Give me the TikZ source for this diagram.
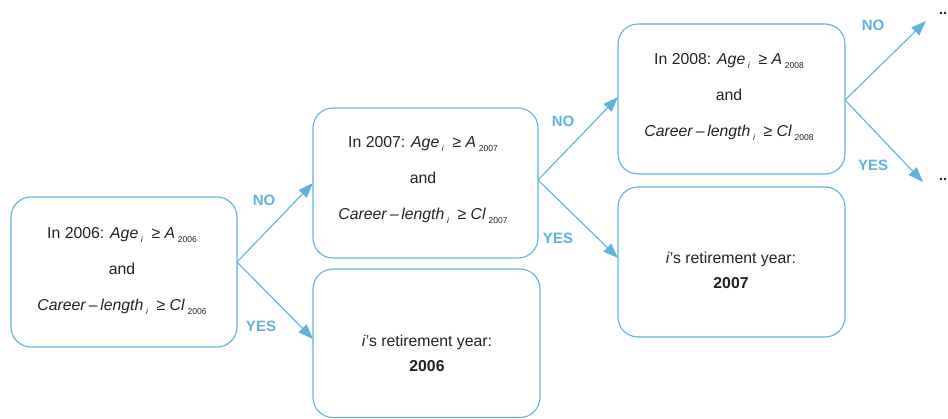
\documentclass[tikz,border=0pt]{standalone}
\usepackage{fontspec}
\setmainfont{Liberation Sans}
\usetikzlibrary{arrows.meta}
\definecolor{lblue}{HTML}{5FB3DC}
\definecolor{txt}{HTML}{222222}
\newcommand{\lsub}[1]{\raisebox{-0.5ex}{\fontsize{8.5}{8.5}\selectfont #1}}
\newcommand{\isub}[1]{\raisebox{-0.5ex}{\fontsize{8.5}{8.5}\selectfont\itshape #1}}
\newcommand{\cond}[1]{In #1: \textit{Age}\,\isub{i}\ \ ≥ \textit{A}\,\lsub{#1}\\[17pt]and\\[17pt]\textit{Career}\,–\,\textit{length}\,\isub{i}\ \ ≥ \textit{Cl}\,\lsub{#1}}
\begin{document}
\begin{tikzpicture}[x=1pt,y=-1pt,
  box/.style={draw=lblue,line width=1.1pt,rounded corners=20pt},
  btxt/.style={align=center,text=txt,font=\fontsize{15.8}{19}\selectfont,inner sep=0pt},
  conn/.style={draw=lblue,line width=1.1pt,-{Triangle[length=15pt,width=11pt]}},
  lab/.style={text=lblue,font=\fontsize{15}{15}\selectfont\bfseries,inner sep=0pt},
  dots/.style={text=txt,font=\fontsize{14}{14}\selectfont\bfseries,inner sep=0pt}]
\useasboundingbox (0,0) rectangle (948,419);
% boxes
\draw[box] (11,197) rectangle (237,347);
\draw[box] (313,108) rectangle (538,258);
\draw[box] (313,269) rectangle (540,417.5);
\draw[box] (618,24) rectangle (845,174);
\draw[box] (618,187) rectangle (845,337);
% texts
\node[btxt] (t1) at (122,271) {\cond{2006}};
\node[btxt] (t2) at (423,180) {\cond{2007}};
\node[btxt] (t4) at (729,97) {\cond{2008}};
\node[btxt] (t3) at (427,353) {\textit{i}’s retirement year:\\[6pt]\textbf{2006}};
\node[btxt] (t5) at (731,270) {\textit{i}’s retirement year:\\[6pt]\textbf{2007}};
% connector points
\coordinate (b1) at (237,262);
\coordinate (b2) at (538,180);
\coordinate (b4) at (845,100);
\coordinate (in2) at (313,183);
\coordinate (in3) at (313,339);
\coordinate (in4) at (618,97);
\coordinate (in5) at (618,258);
\coordinate (o1) at (926,21);
\coordinate (o2) at (923,182);
\draw[conn] (b1) -- (in2);
\draw[conn] (b1) -- (in3);
\draw[conn] (b2) -- (in4);
\draw[conn] (b2) -- (in5);
\draw[conn] (b4) -- (o1);
\draw[conn] (b4) -- (o2);
% labels
\node[lab] (n1) at (264,200) {NO};
\node[lab] (y1) at (261,326) {YES};
\node[lab] (n2) at (563,121) {NO};
\node[lab] (y2) at (558,238) {YES};
\node[lab] (n4) at (873,25) {NO};
\node[lab] (y4) at (873,165) {YES};
\node[dots] (d1) at (943,13) {..};
\node[dots] (d2) at (943,179) {..};
\end{tikzpicture}
\end{document}
